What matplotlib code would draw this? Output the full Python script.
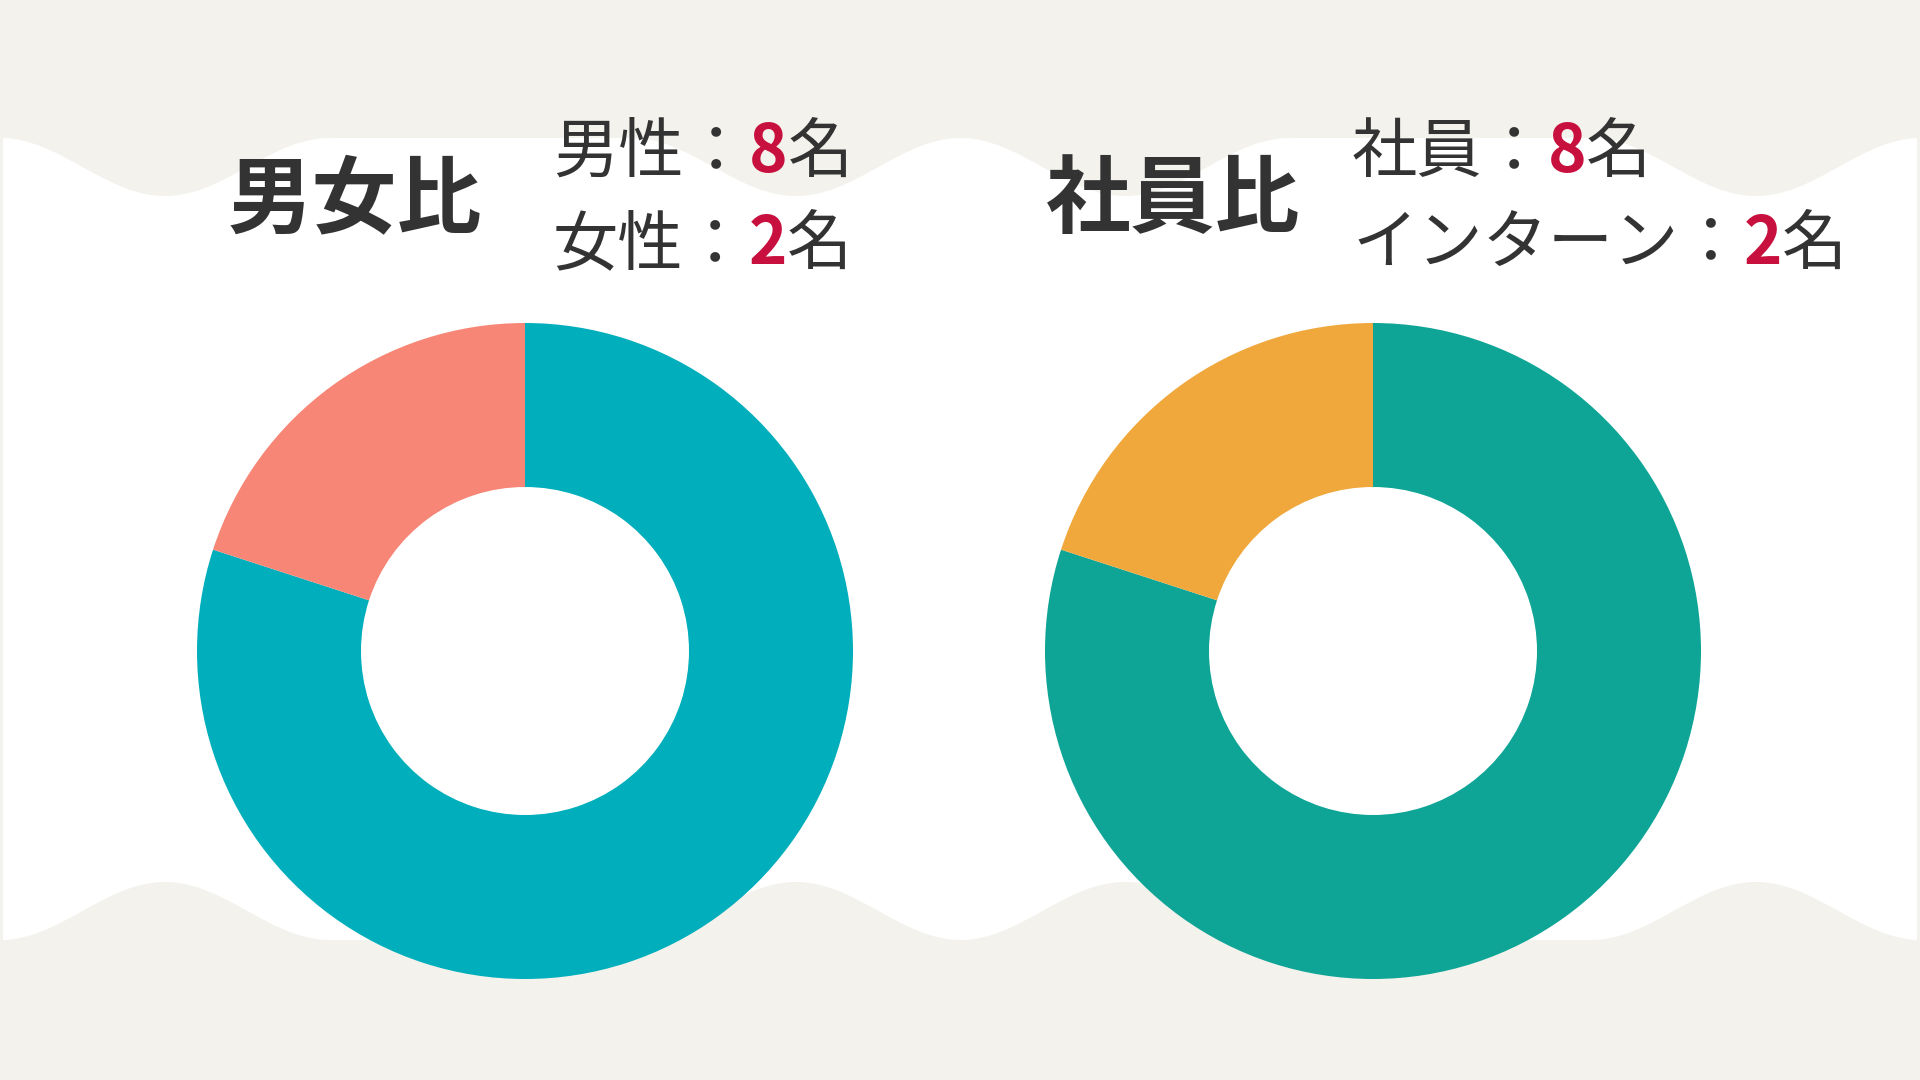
import numpy as np
import matplotlib
matplotlib.use('Agg')
import matplotlib.pyplot as plt
from matplotlib.patches import Polygon

plt.rcParams['font.family'] = ['Noto Sans CJK JP', 'DejaVu Sans']

# data
gender_labels = ['男性', '女性']
gender_counts = [8, 2]
staff_labels = ['社員', 'インターン']
staff_counts = [8, 2]
titles = ['男女比', '社員比']

gender_colors = ['#00AFBB', '#F78676']
staff_colors = ['#0EA596', '#F0A83C']
text_color = '#333333'
num_color = '#C8103E'
bg_color = '#F3F2EC'

W, H = 1920, 1080
fig = plt.figure(figsize=(19.2, 10.8), dpi=100, facecolor=bg_color)
bg = fig.add_axes([0, 0, 1, 1])
bg.set_xlim(0, W)
bg.set_ylim(H, 0)
bg.axis('off')
bg.set_facecolor(bg_color)

# wavy white band
def bump(x):
    out = np.zeros_like(x)
    for c in [165, 796, 1125, 1756]:
        d = np.abs(x - c)
        out += np.where(d < 165, (1 + np.cos(np.pi * d / 165)) / 2, 0)
    return out

xs = np.linspace(3, 1917, 800)
top = 138 + 58 * bump(xs)
bot = 940 - 58 * bump(xs)
pts = np.vstack([np.column_stack([xs, top]), np.column_stack([xs[::-1], bot[::-1]])])
bg.add_patch(Polygon(pts, closed=True, facecolor='white', edgecolor='none'))

# donuts
def donut(cx, cy, r, vals, cols):
    a = fig.add_axes([(cx - r) / W, (H - cy - r) / H, 2 * r / W, 2 * r / H])
    a.pie(vals, colors=cols, startangle=90, counterclock=False, radius=1,
          wedgeprops=dict(width=0.5, edgecolor='none'))
    a.set_xlim(-1, 1)
    a.set_ylim(-1, 1)
    a.set_aspect('equal')
    a.axis('off')

donut(525, 651, 328, gender_counts, gender_colors)
donut(1373, 651, 328, staff_counts, staff_colors)

# titles
bg.text(355, 226, titles[0], fontsize=61, fontweight='bold', color=text_color,
        ha='center', va='baseline')
bg.text(1173, 226, titles[1], fontsize=61, fontweight='bold', color=text_color,
        ha='center', va='baseline')

fig.canvas.draw()
renderer = fig.canvas.get_renderer()

def multi_text(x, y, parts):
    for s, col, wt in parts:
        t = bg.text(x, y, s, fontsize=47, color=col, fontweight=wt,
                    ha='left', va='baseline')
        bb = t.get_window_extent(renderer=renderer)
        x = bb.x1

rows = [(553, 172, gender_labels[0], gender_counts[0]),
        (553, 264, gender_labels[1], gender_counts[1]),
        (1352, 172, staff_labels[0], staff_counts[0]),
        (1352, 264, staff_labels[1], staff_counts[1])]
for x, y, lab, n in rows:
    multi_text(x, y, [(lab + '：', text_color, 'normal'),
                      (str(n), num_color, 'bold'),
                      ('名', text_color, 'normal')])

fig.savefig('out.png', dpi=100, facecolor=bg_color)
